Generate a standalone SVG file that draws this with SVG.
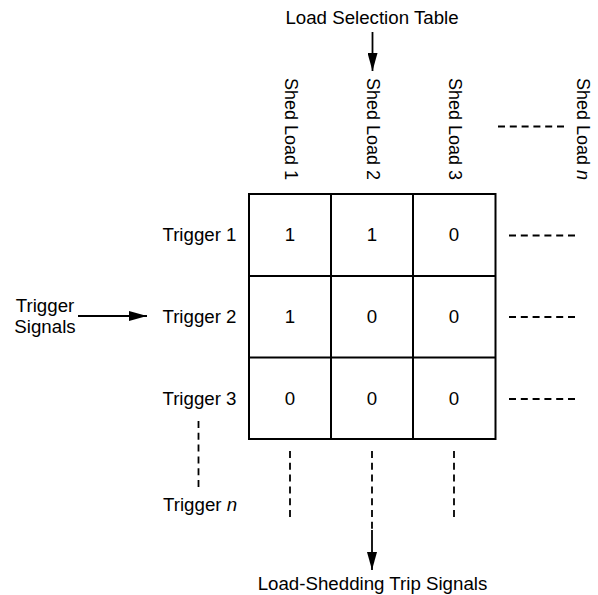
<svg xmlns="http://www.w3.org/2000/svg" width="598" height="595" viewBox="0 0 598 595">
<style>
text{font-family:"Liberation Sans",Arial,sans-serif;font-size:18.7px;fill:#000}
.r{font-size:18px}
.c{text-anchor:middle}
.e{text-anchor:end}
.g{fill:none;stroke:#000;stroke-width:2}
.d{fill:none;stroke:#000;stroke-width:1.8;stroke-dasharray:7 4.8}
.a{fill:none;stroke:#000;stroke-width:1.8}
</style>
<defs>
<marker id="ah" viewBox="0 0 18 10" refX="18" refY="5" markerWidth="18" markerHeight="10" markerUnits="userSpaceOnUse" orient="auto">
<path d="M0,0 L18,5 L0,10 Z" fill="#000"/>
</marker>
</defs>
<rect width="598" height="595" fill="#fff"/>
<g id="title"><text class="c" x="372" y="24">Load Selection Table</text></g>
<g id="col-labels">
<text class="r" transform="translate(285,78) rotate(90)">Shed Load 1</text>
<text class="r" transform="translate(367,78) rotate(90)">Shed Load 2</text>
<text class="r" transform="translate(448.5,78) rotate(90)">Shed Load 3</text>
<text class="r" transform="translate(576.5,78) rotate(90)">Shed Load <tspan font-style="italic">n</tspan></text>
</g>
<g id="row-labels">
<text class="e" x="236.5" y="241">Trigger 1</text>
<text class="e" x="236.5" y="323">Trigger 2</text>
<text class="e" x="236.5" y="405">Trigger 3</text>
<text x="163" y="511">Trigger <tspan font-style="italic">n</tspan></text>
</g>
<g id="trigger-signals">
<text class="c" x="45" y="312">Trigger</text>
<text class="c" x="45" y="333">Signals</text>
</g>
<g id="table">
<rect class="g" x="249" y="194" width="246.5" height="245"/>
<line class="g" x1="331" y1="194" x2="331" y2="439"/>
<line class="g" x1="413" y1="194" x2="413" y2="439"/>
<line class="g" x1="249" y1="276" x2="495.5" y2="276"/>
<line class="g" x1="249" y1="357.5" x2="495.5" y2="357.5"/>
<text class="c" x="290" y="241">1</text>
<text class="c" x="372" y="241">1</text>
<text class="c" x="454" y="241">0</text>
<text class="c" x="290" y="323">1</text>
<text class="c" x="372" y="323">0</text>
<text class="c" x="454" y="323">0</text>
<text class="c" x="290" y="405">0</text>
<text class="c" x="372" y="405">0</text>
<text class="c" x="454" y="405">0</text>
</g>
<g id="output"><text class="c" x="372.5" y="590">Load-Shedding Trip Signals</text></g>
<g id="connectors">
<line class="a" x1="372.5" y1="32" x2="372.5" y2="71" marker-end="url(#ah)"/>
<line class="a" x1="78" y1="316" x2="147" y2="316" marker-end="url(#ah)"/>
<line class="d" x1="372" y1="451" x2="372" y2="529"/>
<line class="a" x1="372" y1="530" x2="372" y2="570" marker-end="url(#ah)"/>
<line class="d" x1="290" y1="451" x2="290" y2="518"/>
<line class="d" x1="454" y1="451" x2="454" y2="518"/>
<line class="d" x1="198.5" y1="421" x2="198.5" y2="488"/>
<line class="d" x1="498" y1="126.5" x2="565" y2="126.5"/>
<line class="d" x1="509" y1="235.5" x2="575" y2="235.5"/>
<line class="d" x1="509" y1="317" x2="575" y2="317"/>
<line class="d" x1="509" y1="399" x2="575" y2="399"/>
</g>
</svg>
